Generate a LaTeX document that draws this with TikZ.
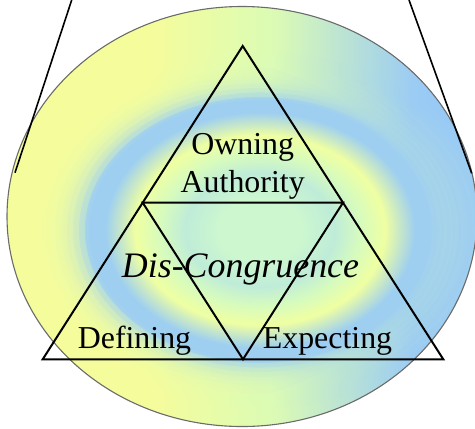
\documentclass[tikz,border=0pt]{standalone}
\usepackage{fontspec}
\setmainfont{Liberation Serif}
\usepackage{xcolor}
\usetikzlibrary{calc}
\definecolor{ringgreen}{HTML}{CCF7CF}
\definecolor{ringmint}{HTML}{BFECD8}
\definecolor{ringpale}{HTML}{D6FBBE}
\definecolor{ringyellow}{HTML}{EFFFA2}
\definecolor{ringblue}{HTML}{9ECFF0}
\definecolor{outeryellow}{HTML}{F8FF9C}
\definecolor{outerpale}{HTML}{DCFCB6}
\definecolor{outerblue}{HTML}{98CAFA}
\definecolor{rimgray}{HTML}{6B6B6B}
% concentric bands of the disc
\pgfdeclareradialshading{rings}{\pgfpointorigin}{%
  color(0bp)=(ringgreen); color(3.5bp)=(ringgreen);
  color(6.25bp)=(ringmint); color(8.3bp)=(ringpale);
  color(10.4bp)=(ringyellow); color(12.9bp)=(ringblue);
  color(14.2bp)=(ringblue); color(18bp)=(outerpale); color(50bp)=(outerpale)}
% left to right tint of the outer band
\pgfdeclarehorizontalshading{sweep}{100bp}{%
  color(0bp)=(outeryellow); color(40bp)=(outeryellow);
  color(53bp)=(outerpale); color(68bp)=(outerblue); color(100bp)=(outerblue)}

\begin{document}
\begin{tikzpicture}[x=1bp, y=-1bp,
    edge/.style={line width=2bp, line join=miter},
    funnel/.style={line width=1.6bp},
    rim/.style={draw=rimgray, line width=1.1bp},
    band/.style={shading=sweep, fill opacity=0.25},
    word/.style={font=\fontsize{32}{38}\selectfont, inner sep=0pt, align=center}
]
\useasboundingbox (0,0) rectangle (475,428);

% shaded disc, outer band tinted left to right
\coordinate (hub) at (242,216.5);
\coordinate (core) at (260,230);
\begin{scope}
  \clip (hub) ellipse [x radius=235, y radius=210];
  \shade[shading=rings] (-40,2) rectangle (560,458);
  \foreach \r in {175,181,...,235}
    \shade[band, even odd rule] (hub) ellipse [x radius=235, y radius=210]
      (core) ellipse [x radius=\r, y radius=0.76*\r];
\end{scope}
\draw[rim] (hub) ellipse [x radius=235, y radius=210];

% funnel sides
\coordinate (fl top) at (71.7,0);
\coordinate (fl end) at (15,172.7);
\coordinate (fr top) at (409,0);
\coordinate (fr end) at (471.7,173.3);
\draw[funnel] (fl top) -- (fl end);
\draw[funnel] (fr top) -- (fr end);

% outer triangle and the middle one
\coordinate (apex) at (242.7,46);
\coordinate (base l) at (42.7,359.3);
\coordinate (base r) at (443.3,359.3);
\coordinate (mid l) at ($(apex)!0.5!(base l)$);
\coordinate (mid r) at ($(apex)!0.5!(base r)$);
\coordinate (mid b) at ($(base l)!0.5!(base r)$);
\draw[edge] (apex) -- (base l) -- (base r) -- cycle;
\draw[edge] (mid l) -- (mid r) -- (mid b) -- cycle;

\node[word] (owning) at (242.7,166) {Owning\\Authority};
\node[word, font=\fontsize{36}{40}\selectfont\itshape, anchor=base] (disc) at (240.5,277) {Dis-Congruence};
\node[word, anchor=base] (defining) at (134.5,348) {Defining};
\node[word, anchor=base] (expecting) at (327.5,348) {Expecting};
\end{tikzpicture}
\end{document}
